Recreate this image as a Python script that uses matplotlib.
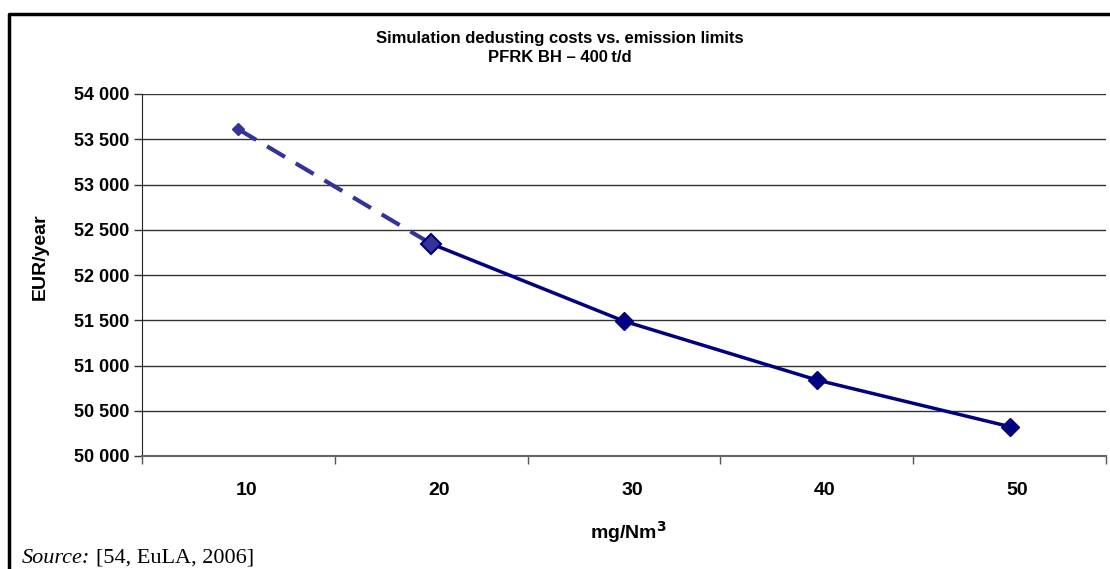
import numpy as np
import matplotlib.pyplot as plt
from matplotlib.lines import Line2D
from matplotlib.ticker import FuncFormatter
from matplotlib.transforms import ScaledTranslation

# data
limits = ["10", "20", "30", "40", "50"]
costs = [53610, 52345, 51490, 50840, 50325]

plt.rcParams['font.family'] = ['Liberation Sans', 'DejaVu Sans']

W, H = 1110, 569
fig = plt.figure(figsize=(W / 100, H / 100), dpi=100)
ax = fig.add_axes([142 / W, 1 - 456 / H, (1106 - 142) / W, (456 - 94) / H])

x = np.arange(len(limits))
navy = "#000080"
# dashed (extrapolated) part 10 -> 20
ax.plot(x[:2], costs[:2], color="#333399", lw=3, ls=(0, (5, 3)), zorder=3)
# solid part 20 -> 50
ax.plot(x[1:], costs[1:], color=navy, lw=2.5, zorder=4)
ax.plot(x[2:], costs[2:], ls="none", marker="D", ms=9, color=navy, zorder=5)
ax.plot(x[1], costs[1], ls="none", marker="D", ms=10, mfc="#333399",
        mec=navy, mew=1.5, zorder=5)
ax.plot(x[0], costs[0], ls="none", marker="D", ms=6, color="#333399", zorder=5)

ax.set_xlim(-0.5, len(limits) - 0.5)
ax.set_ylim(50000, 54000)
ax.set_yticks(np.arange(50000, 54001, 500))
ax.yaxis.set_major_formatter(FuncFormatter(lambda v, p: f"{int(v):,}".replace(",", " ")))
ax.set_xticks(x)
ax.set_xticklabels(limits)
ax.set_xticks(np.arange(-0.5, len(limits)), minor=True)
ax.tick_params(axis="x", which="major", length=0, pad=19, labelsize=14)
ax.tick_params(axis="x", which="minor", length=6, width=1, color="#555555")
ax.tick_params(axis="y", length=6, width=1, color="#333333", pad=3, labelsize=13)
shift = ScaledTranslation(8 / 100, 0, fig.dpi_scale_trans)
for lab in ax.get_xticklabels():
    lab.set_fontweight("bold")
    lab.set_transform(lab.get_transform() + shift)
for lab in ax.get_yticklabels():
    lab.set_fontweight("bold")

ax.grid(axis="y", color="#333333", lw=1)
ax.set_axisbelow(True)
for s in ["top", "right"]:
    ax.spines[s].set_visible(False)
ax.spines["left"].set_color("#222222")
ax.spines["bottom"].set_color("#666666")
ax.spines["bottom"].set_linewidth(1.5)

fig.text(560 / W, 1 - 38 / H, "Simulation dedusting costs vs. emission limits",
         ha="center", va="center", fontsize=12, fontweight="bold")
fig.text(560 / W, 1 - 58 / H, "PFRK BH \u2013 400\u2009t/d",
         ha="center", va="center", fontsize=12, fontweight="bold")
fig.text(40 / W, 1 - 257 / H, "EUR/year", rotation=90, ha="center",
         va="center", fontsize=14, fontweight="bold")
fig.text(628 / W, 1 - 532 / H, "mg/Nm$^{\\mathbf{3}}$", ha="center", va="center",
         fontsize=14, fontweight="bold")

# outer frame (left and top only, cut at the bottom)
fig.add_artist(Line2D([9 / W, 9 / W, 1.0], [0, 1 - 14 / H, 1 - 14 / H],
                      transform=fig.transFigure, color="black", lw=2.5))

fig.text(22 / W, 6 / H, "Source:", ha="left", va="baseline",
         fontsize=16, style="italic", family="Liberation Serif")
fig.text(96 / W, 6 / H, "[54, EuLA, 2006]", ha="left", va="baseline",
         fontsize=16, family="Liberation Serif")

fig.savefig("out.png", dpi=100)
